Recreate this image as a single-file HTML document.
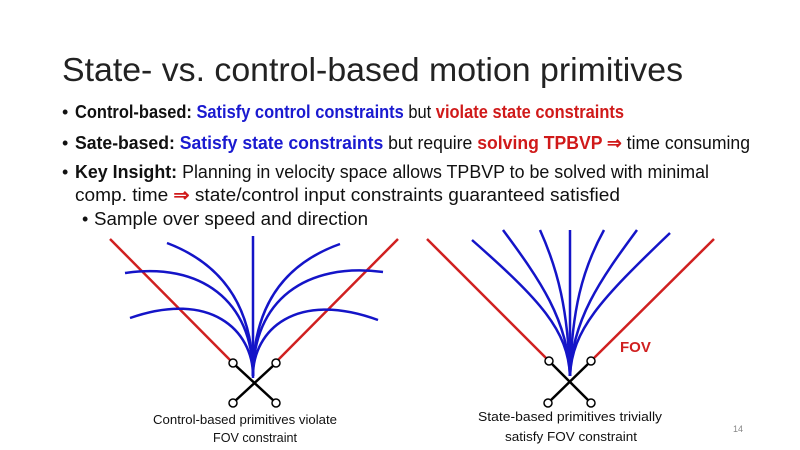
<!DOCTYPE html>
<html><head><meta charset="utf-8"><style>
html,body{margin:0;padding:0;background:#fff;}
svg{display:block;}
</style></head><body>
<svg width="800" height="450" viewBox="0 0 800 450" xmlns="http://www.w3.org/2000/svg" font-family="'Liberation Sans', sans-serif">
<rect width="800" height="450" fill="#fff"/>
<text x="62" y="81" font-size="33" fill="#222" textLength="621" lengthAdjust="spacingAndGlyphs">State- vs. control-based motion primitives</text>
<g font-size="18" fill="#111">
<text x="62" y="118">•</text>
<text x="62" y="149">•</text>
<text x="62" y="178">•</text>
<text x="82" y="225">•</text>
<text x="75" y="118" textLength="549" lengthAdjust="spacingAndGlyphs"><tspan font-weight="bold">Control-based: </tspan><tspan font-weight="bold" fill="#1a1ad0">Satisfy control constraints</tspan><tspan> but </tspan><tspan font-weight="bold" fill="#d01a1a">violate state constraints</tspan></text>
<text x="75" y="149" textLength="675" lengthAdjust="spacingAndGlyphs"><tspan font-weight="bold">Sate-based: </tspan><tspan font-weight="bold" fill="#1a1ad0">Satisfy state constraints</tspan><tspan> but require </tspan><tspan font-weight="bold" fill="#d01a1a">solving TPBVP ⇒</tspan><tspan>  time consuming</tspan></text>
<text x="75" y="178" textLength="634" lengthAdjust="spacingAndGlyphs"><tspan font-weight="bold">Key Insight: </tspan><tspan>Planning in velocity space allows TPBVP to be solved with minimal</tspan></text>
<text x="75" y="201" textLength="545" lengthAdjust="spacingAndGlyphs"><tspan>comp. time </tspan><tspan fill="#d01a1a" font-weight="bold">⇒</tspan><tspan> state/control input constraints guaranteed satisfied</tspan></text>
<text x="94" y="225" textLength="274" lengthAdjust="spacingAndGlyphs">Sample over speed and direction</text>
</g>
<!-- left diagram -->
<g fill="none" stroke-width="2.5">
<line x1="233" y1="363" x2="110" y2="239" stroke="#d02020"/>
<line x1="276" y1="362" x2="398" y2="239" stroke="#d02020"/>
<g stroke="#1414c8">
<line x1="253" y1="378" x2="253" y2="236"/>
<path d="M253,376 C253,310 225,265 167,243"/>
<path d="M253,376 C253,300 200,262 125,273"/>
<path d="M253,376 C253,330 210,290 130,318"/>
<path d="M253,376 C253,310 281,265 340,244"/>
<path d="M253,376 C253,300 306,262 383,272"/>
<path d="M253,376 C253,330 296,290 378,320"/>
</g>
<g stroke="#000" stroke-width="2.5">
<line x1="235" y1="365" x2="274" y2="401"/>
<line x1="274" y1="365" x2="235" y2="401"/>
</g>
<g stroke="#000" stroke-width="1.5" fill="#fff">
<circle cx="233" cy="363" r="4"/><circle cx="276" cy="363" r="4"/>
<circle cx="233" cy="403" r="4"/><circle cx="276" cy="403" r="4"/>
</g>
</g>
<!-- right diagram -->
<g fill="none" stroke-width="2.5">
<line x1="546" y1="358" x2="427" y2="239" stroke="#d02020"/>
<line x1="594" y1="358" x2="714" y2="239" stroke="#d02020"/>
<g stroke="#1414c8">
<line x1="570" y1="376" x2="570" y2="230"/>
<path d="M570,376 C568,330 540,300 472,240"/>
<path d="M570,376 C568,320 540,280 503,230"/>
<path d="M570,376 C568,310 558,270 540,230"/>
<path d="M570,376 C572,310 582,270 604,230"/>
<path d="M570,376 C572,320 600,280 637,230"/>
<path d="M570,376 C572,330 600,300 670,233"/>
</g>
<g stroke="#000" stroke-width="2.5">
<line x1="551" y1="363" x2="589" y2="401"/>
<line x1="589" y1="363" x2="550" y2="401"/>
</g>
<g stroke="#000" stroke-width="1.5" fill="#fff">
<circle cx="549" cy="361" r="4"/><circle cx="591" cy="361" r="4"/>
<circle cx="548" cy="403" r="4"/><circle cx="591" cy="403" r="4"/>
</g>
</g>
<text x="620" y="352" font-size="15" font-weight="bold" fill="#d02020">FOV</text>
<g font-size="13" fill="#111">
<text x="153" y="424" textLength="184" lengthAdjust="spacingAndGlyphs">Control-based primitives violate</text>
<text x="213" y="442" textLength="84" lengthAdjust="spacingAndGlyphs">FOV constraint</text>
<text x="478" y="421" textLength="184" lengthAdjust="spacingAndGlyphs">State-based primitives trivially</text>
<text x="505" y="441" textLength="132" lengthAdjust="spacingAndGlyphs">satisfy FOV constraint</text>
</g>
<text x="733" y="432" font-size="9" fill="#888">14</text>
</svg>
</body></html>
